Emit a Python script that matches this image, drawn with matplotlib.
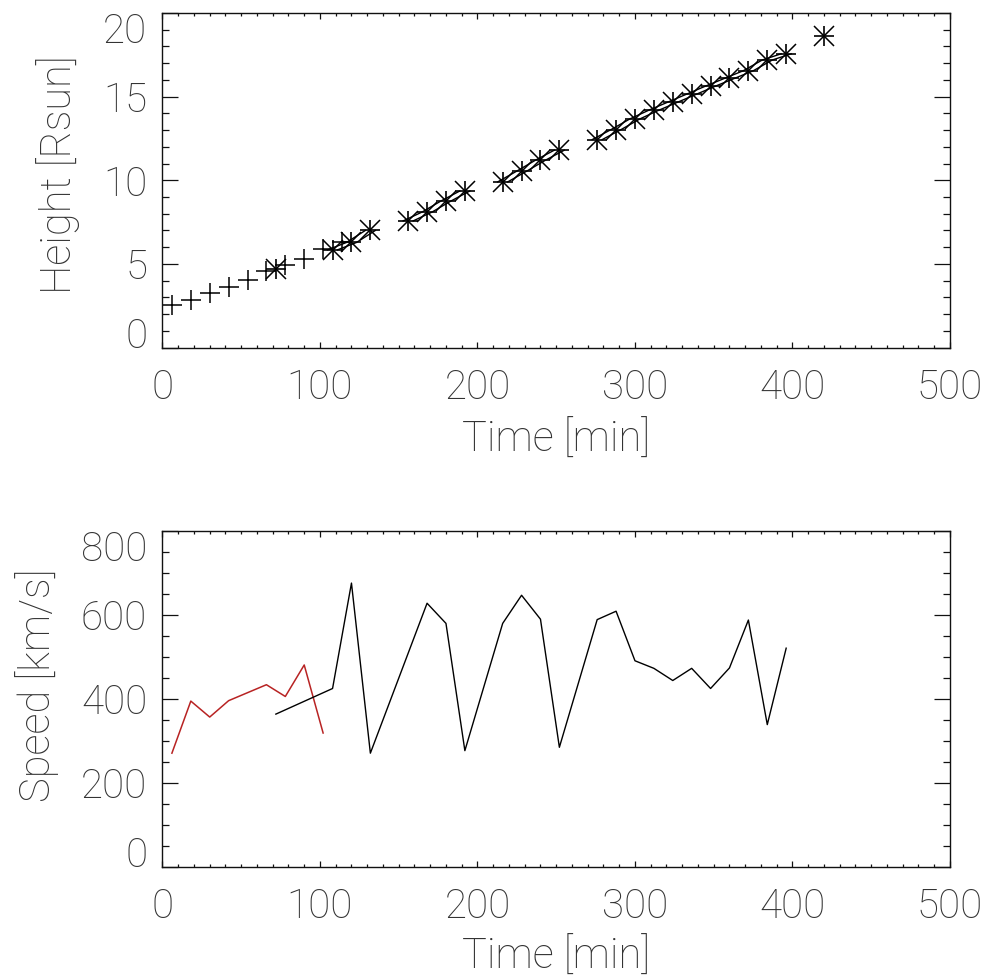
import numpy as np
import matplotlib
matplotlib.use("Agg")
import matplotlib.pyplot as plt
from matplotlib import transforms

plt.rcParams["font.family"] = ["Roboto", "DejaVu Sans"]
plt.rcParams["font.weight"] = "light"
plt.rcParams["axes.labelweight"] = "light"

# height-time points, early (plus) and later (asterisk) measurements
t_plus = [6, 18, 30, 42, 54, 66, 78, 90, 102, 114]
h_plus = [2.56, 2.86, 3.27, 3.61, 4.01, 4.55, 4.95, 5.31, 5.87, 6.30]

t_star = [72, 108, 120, 132, 156, 168, 180, 192, 216, 228, 240, 252,
          276, 288, 300, 312, 324, 336, 348, 360, 372, 384, 396, 420]
h_star = [4.71, 5.84, 6.28, 7.00, 7.57, 8.10, 8.76, 9.36, 9.90, 10.54, 11.20, 11.80,
          12.43, 13.03, 13.67, 14.19, 14.67, 15.15, 15.63, 16.09, 16.55, 17.19, 17.56, 18.63]

# speeds
t_v_red = [6, 18, 30, 42, 66, 78, 90, 102]
v_red = [271, 395, 357, 396, 434, 406, 481, 319]

t_v_blk = [72, 108, 120, 132, 168, 180, 192, 216, 228, 240, 252, 276,
           288, 300, 312, 324, 336, 348, 360, 372, 384, 396]
v_blk = [364, 425, 676, 271, 628, 580, 277, 580, 647, 590, 285, 589,
         609, 491, 473, 444, 473, 425, 474, 588, 339, 521]

FS = 29
TXT = "#333333"

fig = plt.figure(figsize=(9.87, 9.77), dpi=100)
ax1 = fig.add_axes([0.1646, 0.6443, 0.7979, 0.3424])
ax2 = fig.add_axes([0.1646, 0.1126, 0.7979, 0.3439])

# top panel: markers
ax1.plot(t_plus, h_plus, ls="none", marker="+", ms=14, mew=1.1, color="black")
ax1.plot(t_star, h_star, ls="none", marker="+", ms=14.5, mew=1.2, color="black")
ax1.plot(t_star, h_star, ls="none", marker="x", ms=14.5, mew=1.1, color="black")

# connecting lines only between consecutive 12-min points
ts = np.array(t_star, dtype=float)
hs = np.array(h_star, dtype=float)
brk = np.where(np.diff(ts) > 15)[0] + 1
tl = np.insert(ts, brk, np.nan)
hl = np.insert(hs, brk, np.nan)
for dx in (-5, 5):
    tr = transforms.offset_copy(ax1.transData, fig=fig, x=dx, y=0, units="dots")
    ax1.plot(tl, hl, color="black", lw=1.0, transform=tr)

# bottom panel: speeds
ax2.plot(t_v_red, v_red, color="#b82323", lw=1.1)
ax2.plot(t_v_blk, v_blk, color="black", lw=1.0)


def style_axis(ax, ymax, ymajor, yminor):
    ax.set_xticks(np.arange(0, 501, 100))
    ax.set_xticks(np.arange(0, 501, 10), minor=True)
    ax.set_yticks(np.arange(0, ymax + 1, ymajor))
    ax.set_yticks(np.arange(0, ymax + 1, yminor), minor=True)
    for s in ax.spines.values():
        s.set_linewidth(1.0)
        s.set_color("#111111")
    ax.tick_params(axis="both", which="both", direction="in",
                   top=True, right=True, color="#111111", width=0.9,
                   labelsize=FS, labelcolor=TXT)
    ax.tick_params(axis="x", which="major", length=4.2, pad=15)
    ax.tick_params(axis="x", which="minor", length=2.4)
    ax.tick_params(axis="y", which="major", length=11.3, pad=11)
    ax.tick_params(axis="y", which="minor", length=5.0)
    # end labels sit inside the axis range, IDL style
    ticks = ax.yaxis.get_major_ticks()
    ticks[0].label1.set_va("baseline")
    ticks[-1].label1.set_va("top")
    ax.set_xlim(0, 500)
    ax.set_ylim(0, ymax)


style_axis(ax1, 20, 5, 1)
style_axis(ax2, 800, 200, 50)

ax1.set_xlabel("Time [min]", fontsize=FS + 1, color=TXT)
ax1.set_ylabel("Height [Rsun]", fontsize=FS + 1, color=TXT)
ax1.xaxis.set_label_coords(0.5, -0.2765)
ax1.xaxis.label.set_va("center")
ax1.yaxis.set_label_coords(-0.1327, 0.516)
ax1.yaxis.label.set_va("center")

ax2.set_xlabel("Time [min]", fontsize=FS + 1, color=TXT)
ax2.set_ylabel("Speed [km/s]", fontsize=FS + 1, color=TXT)
ax2.xaxis.set_label_coords(0.5, -0.268)
ax2.xaxis.label.set_va("center")
ax2.yaxis.set_label_coords(-0.1594, 0.542)
ax2.yaxis.label.set_va("center")

fig.savefig("out.png", dpi=100)
